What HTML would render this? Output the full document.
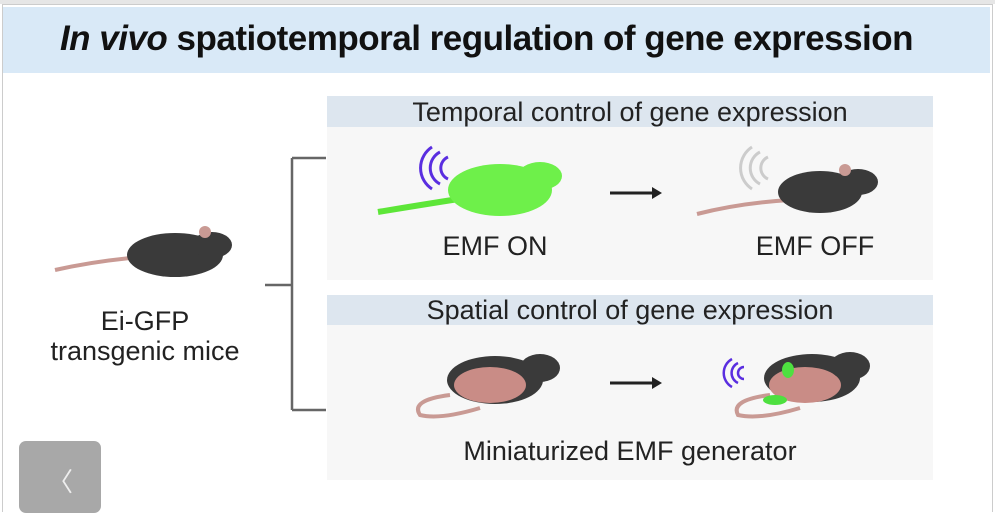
<!DOCTYPE html>
<html><head><meta charset="utf-8"><style>
body{margin:0;width:995px;height:511px;background:#fff;overflow:hidden;font-family:"Liberation Sans",Arial,sans-serif;position:relative}
.a{position:absolute}
.t{position:absolute;text-align:center;color:#222;white-space:nowrap}
</style></head><body>
<div class="a" style="left:0;top:0;width:995px;height:4px;background:#e6e6e6"></div>
<div class="a" style="left:2px;top:4px;width:989px;height:507px;border:1px solid #ccc;border-bottom:none"></div>
<div class="a" style="left:3px;top:7px;width:987px;height:66px;background:#d9e9f7"></div>
<div class="t" style="left:-7px;top:19px;width:987px;font-size:35px;color:#111;font-weight:bold;letter-spacing:-0.5px"><i>In vivo</i> spatiotemporal regulation of gene expression</div>

<div class="a" style="left:327px;top:96px;width:606px;height:31px;background:#dde6ef"></div>
<div class="a" style="left:327px;top:127px;width:606px;height:153px;background:#f7f7f7"></div>
<div class="t" style="left:327px;top:97px;width:606px;font-size:27px">Temporal control of gene expression</div>
<div class="a" style="left:327px;top:295px;width:606px;height:30px;background:#dde6ef"></div>
<div class="a" style="left:327px;top:325px;width:606px;height:155px;background:#f7f7f7"></div>
<div class="t" style="left:327px;top:295px;width:606px;font-size:27px">Spatial control of gene expression</div>

<svg class="a" style="left:0;top:0" width="995" height="511">
<g stroke="#666" stroke-width="2.5" fill="none">
<path d="M265 285H292M292 158V410M292 158H326M292 410H326"/>
</g>
<path d="M130 258 Q90 262 55 270" stroke="#c99a94" stroke-width="4" fill="none"/>
<ellipse cx="175" cy="255" rx="48" ry="22" fill="#3a3a3a"/>
<ellipse cx="212" cy="245" rx="20" ry="13" fill="#3a3a3a"/>
<circle cx="205" cy="232" r="6" fill="#c99a94"/>
<path d="M465 198 Q420 205 378 212" stroke="#5de638" stroke-width="6" fill="none"/>
<ellipse cx="500" cy="190" rx="52" ry="26" fill="#6ef04a"/>
<ellipse cx="540" cy="176" rx="22" ry="14" fill="#6ef04a"/>
<path d="M432 157a12 12 0 0 1 0 22M440 152a18 18 0 0 1 0 32M448 147a25 25 0 0 1 0 42" stroke="#5a2ee0" stroke-width="3" fill="none" transform="rotate(180 440 168)"/>
<path d="M610 193H655" stroke="#222" stroke-width="3"/><path d="M662 193l-10-6v12z" fill="#222"/>
<path d="M790 200 Q740 203 697 214" stroke="#c99a94" stroke-width="4" fill="none"/>
<ellipse cx="820" cy="192" rx="42" ry="21" fill="#3a3a3a"/>
<ellipse cx="858" cy="182" rx="20" ry="13" fill="#3a3a3a"/>
<circle cx="845" cy="170" r="6" fill="#c99a94"/>
<path d="M752 157a12 12 0 0 1 0 22M760 152a18 18 0 0 1 0 32M768 147a25 25 0 0 1 0 42" stroke="#ccc" stroke-width="3" fill="none" transform="rotate(180 760 168)"/>
<path d="M450 395 Q410 400 420 415 Q440 420 480 408" stroke="#c99a94" stroke-width="4" fill="none"/>
<ellipse cx="495" cy="380" rx="48" ry="24" fill="#3a3a3a"/>
<ellipse cx="490" cy="385" rx="36" ry="18" fill="#c98c86"/>
<ellipse cx="540" cy="368" rx="20" ry="14" fill="#3a3a3a"/>
<path d="M610 383H655" stroke="#222" stroke-width="3"/><path d="M662 383l-10-6v12z" fill="#222"/>
<path d="M770 395 Q730 400 738 415 Q760 420 800 408" stroke="#c99a94" stroke-width="4" fill="none"/>
<ellipse cx="812" cy="378" rx="48" ry="24" fill="#3a3a3a"/>
<ellipse cx="805" cy="385" rx="36" ry="18" fill="#c98c86"/>
<ellipse cx="775" cy="400" rx="12" ry="5" fill="#4ee040"/>
<ellipse cx="788" cy="370" rx="6" ry="8" fill="#4ee040"/>
<ellipse cx="850" cy="366" rx="20" ry="14" fill="#3a3a3a"/>
<path d="M732 367a6 6 0 0 1 0 12M738 363a11 11 0 0 1 0 20M744 359a16 16 0 0 1 0 28" stroke="#5a2ee0" stroke-width="2.5" fill="none" transform="rotate(180 738 373)"/>
</svg>
<div class="t" style="left:395px;top:231px;width:200px;font-size:27px">EMF ON</div>
<div class="t" style="left:715px;top:231px;width:200px;font-size:27px">EMF OFF</div>
<div class="t" style="left:327px;top:436px;width:606px;font-size:27px">Miniaturized EMF generator</div>
<div class="t" style="left:30px;top:306px;width:230px;font-size:27px;line-height:30px">Ei-GFP<br>transgenic mice</div>
<div class="a" style="left:19px;top:441px;width:82px;height:72px;background:#a8a8a8;border-radius:7px"></div>
<div class="t" style="left:19px;top:462px;width:82px;font-size:26px;color:#eee">〈</div>
</body></html>
